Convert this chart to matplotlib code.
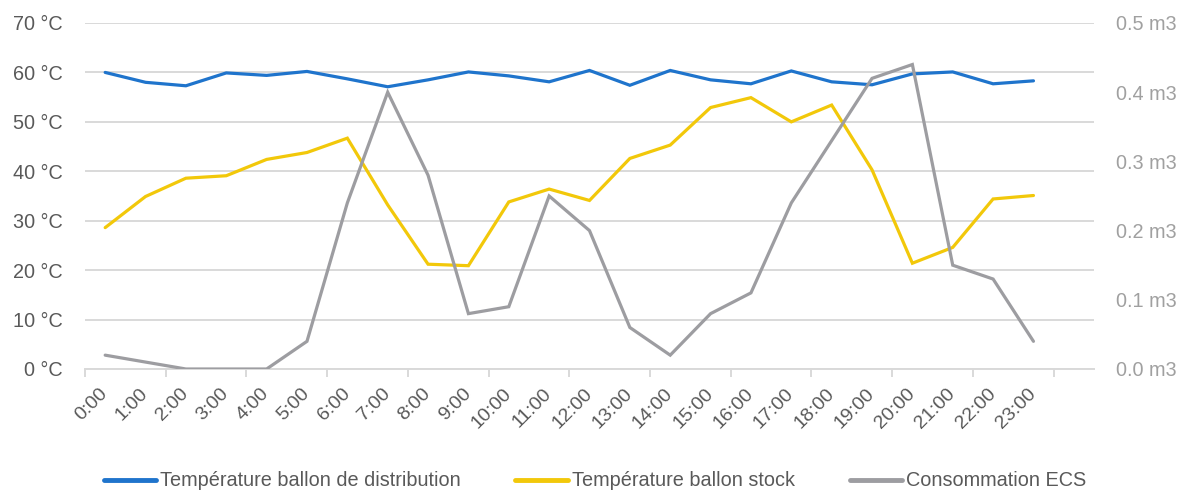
import matplotlib
matplotlib.use("Agg")
import matplotlib.pyplot as plt
from matplotlib.ticker import FuncFormatter, FixedLocator

plt.rcParams['font.family'] = ['Liberation Sans', 'DejaVu Sans']

hours = [f"{h}:00" for h in range(24)]
temp_distribution = [60.0, 58.0, 57.3, 59.9, 59.4, 60.2, 58.7, 57.1, 58.5, 60.1, 59.3, 58.1,
                     60.4, 57.4, 60.4, 58.5, 57.7, 60.3, 58.1, 57.5, 59.7, 60.1, 57.7, 58.3]
temp_stock = [28.6, 34.9, 38.6, 39.1, 42.4, 43.8, 46.7, 33.2, 21.2, 20.9, 33.8, 36.4,
              34.1, 42.6, 45.3, 52.9, 54.9, 50.0, 53.4, 40.3, 21.4, 24.6, 34.4, 35.1]
consommation = [0.02, 0.01, 0.0, 0.0, 0.0, 0.04, 0.24, 0.40, 0.28, 0.08, 0.09, 0.25,
                0.20, 0.06, 0.02, 0.08, 0.11, 0.24, 0.33, 0.42, 0.44, 0.15, 0.13, 0.04]

c_blue = '#1F74CC'
c_yellow = '#F2C80A'
c_gray = '#9D9DA1'
c_grid = '#D9D9D9'

fig = plt.figure(figsize=(11.83, 4.92), dpi=100)
ax = fig.add_axes([85/1183, 1-369/492, (1094-85)/1183, (369-23)/492])
ax2 = ax.twinx()

x = list(range(len(hours)))
l1, = ax.plot(x, temp_distribution, color=c_blue, lw=2.3, solid_capstyle='round',
              solid_joinstyle='miter', label='Température ballon de distribution')
l2, = ax.plot(x, temp_stock, color=c_yellow, lw=2.3, solid_capstyle='round',
              solid_joinstyle='miter', label='Température ballon stock')
l3, = ax2.plot(x, consommation, color=c_gray, lw=2.3, solid_capstyle='round',
               solid_joinstyle='miter', label='Consommation ECS')

ax.set_xlim(-0.5, 24.5)
ax.set_ylim(0, 70)
ax2.set_ylim(0, 0.5)

ax.set_yticks(range(0, 71, 10))
ax.yaxis.set_major_formatter(FuncFormatter(lambda v, p: f"{int(v)} °C"))
ax2.set_yticks([0, 0.1, 0.2, 0.3, 0.4, 0.5])
ax2.yaxis.set_major_formatter(FuncFormatter(lambda v, p: f"{v:.1f} m3"))

ax.grid(axis='y', color=c_grid, lw=1.4)
ax.set_axisbelow(True)

ax.set_xticks(x)
ax.set_xticklabels(hours, rotation=45, ha='right', va='center', rotation_mode='anchor',
                   fontsize=14, color='#595959')
ax.xaxis.set_minor_locator(FixedLocator([-0.5 + 2 * k for k in range(13)]))
ax.tick_params(axis='x', which='major', length=0, pad=16)
ax.tick_params(axis='x', which='minor', length=6, width=1.4, color=c_grid)
ax.tick_params(axis='y', length=0, pad=16, labelsize=14.3, labelcolor='#595959')
ax2.tick_params(axis='y', length=0, pad=16, labelsize=14.3, labelcolor='#A0A0A0')

for a in (ax, ax2):
    for s in ('top', 'left', 'right'):
        a.spines[s].set_visible(False)
ax.spines['bottom'].set_color(c_grid)
ax.spines['bottom'].set_linewidth(1.4)
ax2.spines['bottom'].set_visible(False)

leg = fig.legend(handles=[l1, l2, l3], loc='center', bbox_to_anchor=(0.503, 1 - 481/492),
                 ncol=3, frameon=False,
                 prop={'size': 14.3},
                 handlelength=2.65, handletextpad=0.2, columnspacing=2.75)
for t in leg.get_texts():
    t.set_color('#595959')
for h in leg.legend_handles:
    h.set_linewidth(3.5)

fig.savefig('out.png', dpi=100)
